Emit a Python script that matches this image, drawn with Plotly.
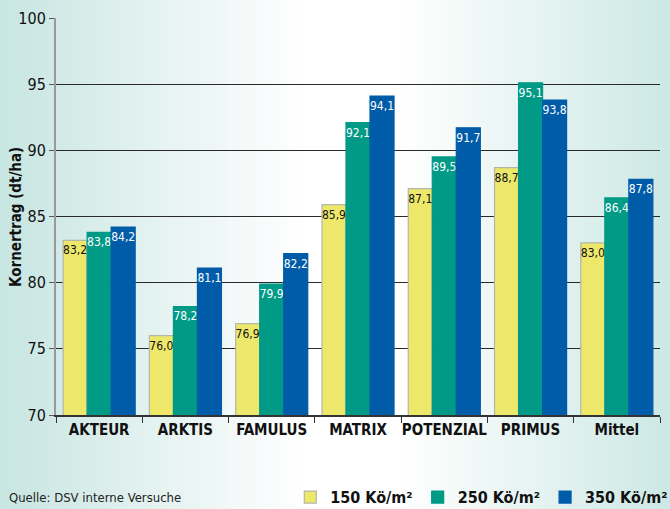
import plotly.graph_objects as go

categories = ["AKTEUR", "ARKTIS", "FAMULUS", "MATRIX", "POTENZIAL", "PRIMUS", "Mittel"]
series_names = ["150 Kö/m²", "250 Kö/m²", "350 Kö/m²"]
v150 = [83.2, 76.0, 76.9, 85.9, 87.1, 88.7, 83.0]
v250 = [83.8, 78.2, 79.9, 92.1, 89.5, 95.1, 86.4]
v350 = [84.2, 81.1, 82.2, 94.1, 91.7, 93.8, 87.8]
y_ticks = [70, 75, 80, 85, 90, 95, 100]

colors = ["#ede86a", "#009a87", "#005ca9"]
text_colors = ["#111111", "#ffffff", "#ffffff"]
FONT = "DejaVu Sans Condensed, Open Sans, sans-serif"

W, H = 670, 509
L, R, T, B = 56, 10, 18, 94
pw, ph = W - L - R, H - T - B

def fmt(v):
    return f"{v:.1f}".replace(".", ",")

fig = go.Figure()
for name, vals, c, tc in zip(series_names, [v150, v250, v350], colors, text_colors):
    fig.add_trace(go.Bar(
        x=categories, y=vals, name=name,
        marker=dict(color=c, line=dict(color="#b5b5a8" if c == "#ede86a" else c, width=1.2)),
        text=[fmt(v) for v in vals],
        textposition="inside", insidetextanchor="end", textangle=0,
        textfont=dict(family=FONT, size=12, color=tc),
        constraintext="none", cliponaxis=False,
    ))

# background gradient (paper-wide)
shapes = []
N = 80
cl = (200, 230, 226)
cr = (205, 233, 229)
for i in range(N):
    f = (i + 0.5) / N
    if f < 0.45:
        t = f / 0.45
        c = tuple(int(a + (255 - a) * t) for a in cl)
    elif f < 0.6:
        c = (255, 255, 255)
    else:
        t = (f - 0.6) / 0.4
        c = tuple(int(255 + (b - 255) * t) for b in cr)
    x0 = (-L + i * W / N) / pw
    x1 = (-L + (i + 1) * W / N + 1) / pw
    shapes.append(dict(type="rect", xref="paper", yref="paper",
                       x0=x0, x1=x1, y0=-B / ph, y1=1 + T / ph,
                       fillcolor="rgb(%d,%d,%d)" % c, line=dict(width=0), layer="below"))

fig.update_layout(
    width=W, height=H,
    margin=dict(l=L, r=R, t=T, b=B, autoexpand=False),
    paper_bgcolor="white", plot_bgcolor="rgba(0,0,0,0)",
    barmode="group", bargap=0.165, bargroupgap=0,
    shapes=shapes,
    showlegend=True,
    legend=dict(orientation="h", x=1.022, xanchor="right", y=-0.207, yanchor="middle",
                font=dict(family=FONT, size=16, color="#111", weight="bold"), itemwidth=30,
                bgcolor="rgba(0,0,0,0)", traceorder="normal"),
    xaxis=dict(tickfont=dict(family=FONT, size=15, color="#111", weight="bold"),
               tickangle=0, automargin=False,
               showline=True, linecolor="#333", linewidth=1.5,
               ticks="outside", tickson="boundaries", ticklen=6, tickcolor="#333",
               showgrid=False),
    yaxis=dict(range=[70, 100], tickvals=y_ticks, automargin=False,
               tickfont=dict(family=FONT, size=16, color="#111"),
               showline=True, linecolor="#999", linewidth=2,
               ticks="outside", ticklen=5, tickcolor="#555",
               showgrid=True, gridcolor="#2a2a2a", gridwidth=1, zeroline=False),
    annotations=[
        dict(text="Quelle: DSV interne Versuche", xref="paper", yref="paper",
             x=(7 - L) / pw, y=-(497 - 415) / ph, xanchor="left", yanchor="middle",
             showarrow=False, font=dict(family=FONT, size=13, color="#222")),
        dict(text="Kornertrag (dt/ha)", xref="paper", yref="paper",
             x=(16 - L) / pw, y=(415 - 217) / ph, xanchor="center", yanchor="middle",
             textangle=-90, showarrow=False,
             font=dict(family=FONT, size=15, color="#111", weight="bold")),
    ],
)

fig.write_html("out.html")
